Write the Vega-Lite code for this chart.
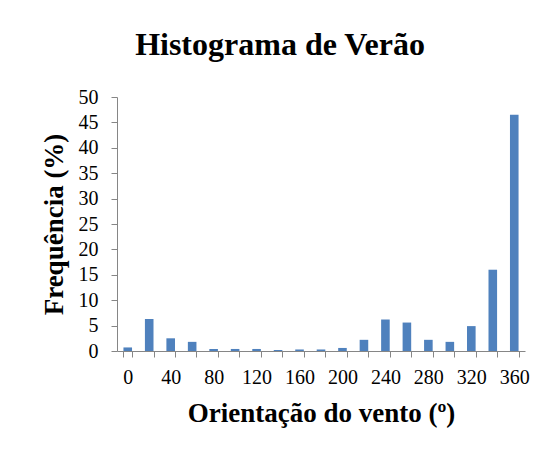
{
  "$schema": "https://vega.github.io/schema/vega-lite/v6.json",
  "width": 408,
  "height": 254,
  "autosize": {"type": "none"},
  "padding": {"left": 117, "top": 97, "right": 26, "bottom": 105},
  "background": "white",
  "title": {
    "text": "Histograma de Verão",
    "font": "Liberation Serif",
    "fontSize": 32,
    "fontWeight": "bold",
    "color": "black",
    "anchor": "middle",
    "dx": -41,
    "offset": 25
  },
  "data": {
    "values": [
      {"angulo": 0, "freq": 0.7},
      {"angulo": 20, "freq": 6.3},
      {"angulo": 40, "freq": 2.5},
      {"angulo": 60, "freq": 1.8},
      {"angulo": 80, "freq": 0.4},
      {"angulo": 100, "freq": 0.4},
      {"angulo": 120, "freq": 0.4},
      {"angulo": 140, "freq": 0.2},
      {"angulo": 160, "freq": 0.3},
      {"angulo": 180, "freq": 0.3},
      {"angulo": 200, "freq": 0.6},
      {"angulo": 220, "freq": 2.2},
      {"angulo": 240, "freq": 6.2},
      {"angulo": 260, "freq": 5.6},
      {"angulo": 280, "freq": 2.2},
      {"angulo": 300, "freq": 1.8},
      {"angulo": 320, "freq": 4.9},
      {"angulo": 340, "freq": 16},
      {"angulo": 360, "freq": 46.5}
    ]
  },
  "mark": {"type": "bar", "color": "#4F81BD"},
  "encoding": {
    "x": {
      "field": "angulo",
      "type": "ordinal",
      "scale": {"paddingInner": 0.6, "paddingOuter": 0.3},
      "axis": {
        "title": "Orientação do vento (º)",
        "labelAngle": 0,
        "labelExpr": "datum.value % 40 == 0 ? datum.label : ''",
        "tickBand": "extent",
        "tickSize": 6,
        "labelPadding": 10,
        "titlePadding": 13
      }
    },
    "y": {
      "field": "freq",
      "type": "quantitative",
      "scale": {"domain": [0, 50], "nice": false},
      "axis": {
        "title": "Frequência (%)",
        "values": [0, 5, 10, 15, 20, 25, 30, 35, 40, 45, 50],
        "grid": false,
        "tickSize": 6,
        "labelPadding": 13,
        "titlePadding": 10
      }
    }
  },
  "config": {
    "view": {"stroke": null},
    "axis": {
      "domainColor": "#868686",
      "tickColor": "#868686",
      "labelFont": "Liberation Serif",
      "labelFontSize": 20,
      "labelColor": "black",
      "titleFont": "Liberation Serif",
      "titleFontSize": 27,
      "titleFontWeight": "bold",
      "titleColor": "black"
    }
  }
}
